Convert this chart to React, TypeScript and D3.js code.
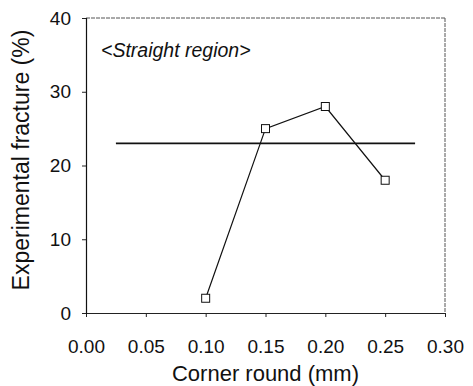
import React, { useEffect, useRef } from 'react';
import * as d3 from 'd3';

const cornerRound = [0.1, 0.15, 0.2, 0.25];
const fracture = [2, 25, 28, 18];
const refLevel = 23;
const refSpan = [0.025, 0.275];
const xTicks = [0, 0.05, 0.1, 0.15, 0.2, 0.25, 0.3];
const yTicks = [0, 10, 20, 30, 40];

const App: React.FC = () => {
  const svgRef = useRef<SVGSVGElement>(null);
  const width = 473;
  const height = 386;

  useEffect(() => {
    if (!svgRef.current) return;
    const svg = d3.select(svgRef.current);
    svg.selectAll("*").remove();

    const font = "'Liberation Sans', Arial, sans-serif";
    const left = 86, right = 445, top = 18, bottom = 313;

    const x = d3.scaleLinear().domain([0, 0.3]).range([left, right]);
    const y = d3.scaleLinear().domain([0, 40]).range([bottom, top]);

    svg.append("rect").attr("width", width).attr("height", height).attr("fill", "#fff");

    // frame: top and right lighter
    svg.append("line").attr("x1", left).attr("x2", right).attr("y1", top).attr("y2", top)
      .attr("stroke", "#555").attr("stroke-width", 1).attr("stroke-dasharray", "4,1");
    svg.append("line").attr("x1", right).attr("x2", right).attr("y1", top).attr("y2", bottom)
      .attr("stroke", "#555").attr("stroke-width", 1).attr("stroke-dasharray", "4,1");

    const xAxis = svg.append("g").attr("transform", `translate(0,${bottom})`)
      .call(d3.axisBottom(x).tickValues(xTicks).tickSize(4).tickPadding(23).tickFormat(d3.format(".2f")));
    xAxis.select(".domain").attr("stroke", "#222");
    xAxis.selectAll("line").attr("stroke", "#222");
    xAxis.selectAll("text").attr("font-family", font).attr("font-size", "19px").attr("fill", "#111");

    const yAxis = svg.append("g").attr("transform", `translate(${left},0)`)
      .call(d3.axisLeft(y).tickValues(yTicks).tickSize(4).tickPadding(11).tickFormat(d3.format("d")));
    yAxis.select(".domain").attr("stroke", "#111").attr("stroke-width", 1.2);
    yAxis.selectAll("line").attr("stroke", "#222");
    yAxis.selectAll("text").attr("font-family", font).attr("font-size", "19px").attr("fill", "#111");

    // reference level line
    svg.append("line")
      .attr("x1", x(refSpan[0])).attr("x2", x(refSpan[1]))
      .attr("y1", y(refLevel)).attr("y2", y(refLevel))
      .attr("stroke", "#111").attr("stroke-width", 1.6);

    const pts = cornerRound.map((c, i) => ({ c, v: fracture[i] }));
    const line = d3.line<{ c: number; v: number }>().x(d => x(d.c)).y(d => y(d.v));
    svg.append("path").datum(pts).attr("d", line)
      .attr("fill", "none").attr("stroke", "#111").attr("stroke-width", 1.2);

    const s = 8;
    svg.selectAll("rect.pt").data(pts).enter().append("rect").attr("class", "pt")
      .attr("x", d => x(d.c) - s / 2).attr("y", d => y(d.v) - s / 2)
      .attr("width", s).attr("height", s)
      .attr("fill", "#fff").attr("stroke", "#111").attr("stroke-width", 1);

    svg.append("text").attr("x", 101).attr("y", 57)
      .attr("font-family", font).attr("font-size", "19.5px").attr("font-style", "italic").attr("fill", "#111")
      .text("<Straight region>");

    svg.append("text").attr("x", (left + right) / 2).attr("y", 381).attr("text-anchor", "middle")
      .attr("font-family", font).attr("font-size", "22px").attr("fill", "#111")
      .text("Corner round (mm)");

    svg.append("text").attr("transform", "translate(29,160) rotate(-90)").attr("text-anchor", "middle")
      .attr("font-family", font).attr("font-size", "23px").attr("fill", "#111")
      .text("Experimental fracture (%)");
  }, []);

  return (
    <svg ref={svgRef} width={width} height={height} viewBox={`0 0 ${width} ${height}`}
      style={{ position: "absolute", left: 0, top: 0 }} />
  );
};

export default App;
